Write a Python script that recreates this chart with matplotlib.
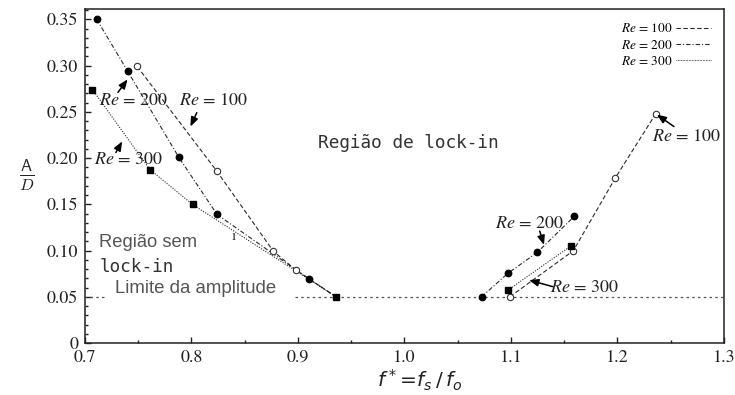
import matplotlib
matplotlib.use('Agg')
from matplotlib import pyplot as plt
from matplotlib.lines import Line2D
from matplotlib.ticker import MultipleLocator, FuncFormatter

plt.rcParams['mathtext.fontset'] = 'stix'
plt.rcParams['font.family'] = 'STIXGeneral'

# Re = 100 (open circles, dashed)
re100_left_x = [0.749, 0.8237, 0.877, 0.898, 0.9357]
re100_left_y = [0.299, 0.186, 0.099, 0.079, 0.050]
re100_left_mk = [True, True, True, True, False]
re100_right_x = [1.099, 1.1585, 1.198, 1.236]
re100_right_y = [0.050, 0.0997, 0.1785, 0.248]

# Re = 200 (filled circles, dash-dot)
re200_left_x = [0.711, 0.740, 0.788, 0.824, 0.910, 0.9357]
re200_left_y = [0.350, 0.294, 0.201, 0.139, 0.0695, 0.050]
re200_right_x = [1.0725, 1.097, 1.1247, 1.1595]
re200_right_y = [0.050, 0.0752, 0.098, 0.137]

# Re = 300 (filled squares, dotted)
re300_left_x = [0.707, 0.761, 0.801, 0.9357]
re300_left_y = [0.274, 0.1875, 0.1498, 0.050]
re300_right_x = [1.097, 1.1563]
re300_right_y = [0.057, 0.105]

limit_value = 0.05
limit_segments = [(0.705, 0.720), (0.897, 1.300)]

# curve labels: text, text position, arrow tail, arrow head
labels = [
    ('$Re$ = 200', (0.746, 0.262), (0.731, 0.271), (0.740, 0.285)),
    ('$Re$ = 100', (0.821, 0.262), (0.805, 0.249), (0.799, 0.234)),
    ('$Re$ = 300', (0.741, 0.1976), (0.729, 0.206), (0.735, 0.218)),
    ('$Re$ = 100', (1.265, 0.223), (1.253, 0.234), (1.237, 0.247)),
    ('$Re$ = 200', (1.117, 0.129), (1.127, 0.121), (1.131, 0.106)),
    ('$Re$ = 300', (1.169, 0.060), (1.139, 0.061), (1.117, 0.068)),
]

x_ticks = [0.7, 0.8, 0.9, 1.0, 1.1, 1.2, 1.3]
y_ticks = [0, 0.05, 0.10, 0.15, 0.20, 0.25, 0.30, 0.35]

ink = '#2a2a2a'
dash100 = (0, (4, 2.2))
dash200 = (0, (4, 1.8, 1, 1.8))
dash300 = (0, (1, 1.3))

fig = plt.figure(figsize=(7.35, 3.95), dpi=100)
ax = fig.add_axes([0.1156, 0.1316, 0.8694, 0.8454])

# limit of amplitude
for x0, x1 in limit_segments:
    ax.plot([x0, x1], [limit_value, limit_value], color='#555555', lw=0.9,
            linestyle=(0, (2, 2.6)))

# curves
ax.plot(re100_left_x, re100_left_y, color=ink, lw=0.8, linestyle=dash100)
ax.plot(re100_right_x, re100_right_y, color=ink, lw=0.8, linestyle=dash100)
ax.plot(re200_left_x, re200_left_y, color=ink, lw=0.8, linestyle=dash200)
ax.plot(re200_right_x, re200_right_y, color=ink, lw=0.8, linestyle=dash200)
ax.plot(re300_left_x, re300_left_y, color=ink, lw=0.8, linestyle=dash300)
ax.plot(re300_right_x, re300_right_y, color=ink, lw=0.8, linestyle=dash300)

# markers
ox = [x for x, m in zip(re100_left_x, re100_left_mk) if m] + re100_right_x
oy = [y for y, m in zip(re100_left_y, re100_left_mk) if m] + re100_right_y
ax.plot(ox, oy, 'o', ms=4.6, mfc='white', mec='#333333', mew=0.8, ls='none')
ax.plot(re200_left_x[:-1] + re200_right_x, re200_left_y[:-1] + re200_right_y,
        'o', ms=4.6, color='black', ls='none')
ax.plot(re300_left_x + re300_right_x, re300_left_y + re300_right_y,
        's', ms=4.8, color='black', ls='none')

# annotations
arrow = dict(arrowstyle='-|>,head_length=0.55,head_width=0.22', color='black',
             lw=1.1, mutation_scale=10, shrinkA=0, shrinkB=0)
for txt, pos, tail, head in labels:
    ax.text(pos[0], pos[1], txt, fontsize=13, color='#222222',
            ha='center', va='center')
    ax.annotate('', xy=head, xytext=tail, arrowprops=arrow)
ax.text(0.840, 0.115, 'ı', fontsize=11, color='#333333', ha='center', va='center')

ax.text(1.004, 0.216, 'Região de lock-in', family='DejaVu Sans Mono',
        fontsize=12.8, color='#333333', ha='center', va='center')
ax.text(0.7135, 0.109, 'Região sem', family='Liberation Sans',
        fontsize=13.2, color='#555555', ha='left', va='center')
ax.text(0.7135, 0.0824, 'lock-in', family='DejaVu Sans Mono',
        fontsize=12.7, color='#333333', ha='left', va='center')
ax.text(0.728, 0.059, 'Limite da amplitude', family='Liberation Sans',
        fontsize=13.4, color='#555555', ha='left', va='center')

# legend
handles = [Line2D([], [], color=ink, lw=0.8, linestyle=dash100),
           Line2D([], [], color=ink, lw=0.8, linestyle=dash200),
           Line2D([], [], color=ink, lw=0.8, linestyle=(0, (0.6, 0.8)))]
ax.legend(handles, ['$Re$ = 100', '$Re$ = 200', '$Re$ = 300'],
          loc='upper right', frameon=False, markerfirst=False,
          prop={'family': 'STIXGeneral', 'size': 9.5}, handlelength=2.6,
          handletextpad=0.3, labelspacing=0.25, borderaxespad=0.6)

# axes
ax.set_xlim(0.7, 1.3)
ax.set_ylim(0, 0.361)
ax.set_xticks(x_ticks)
ax.set_yticks(y_ticks)
ax.xaxis.set_minor_locator(MultipleLocator(0.05))
ax.yaxis.set_minor_locator(MultipleLocator(0.01))
ax.xaxis.set_major_formatter(FuncFormatter(lambda v, p: f'{v:.1f}'))
ax.yaxis.set_major_formatter(FuncFormatter(lambda v, p: '0' if abs(v) < 1e-9 else f'{v:.2f}'))
ax.tick_params(which='both', direction='in', top=False, right=False,
               labelsize=13, colors='#222222', width=1.0)
ax.tick_params(which='major', length=4.5, pad=5)
ax.tick_params(which='minor', length=2.5)
for s in ax.spines.values():
    s.set_linewidth(1.1)
    s.set_color('#222222')

fig.text(0.037, 0.556, r'$\frac{\mathsf{A}}{D}$', fontsize=17, ha='center',
         va='center', color='#222222', math_fontfamily='cm')
fig.text(0.5715, 0.036, r'$f^*\!=\!f_s\,/\,f_o$', fontsize=14.5,
         math_fontfamily='dejavusans', ha='center', va='center', color='#222222')

fig.savefig('out.png', dpi=100)
